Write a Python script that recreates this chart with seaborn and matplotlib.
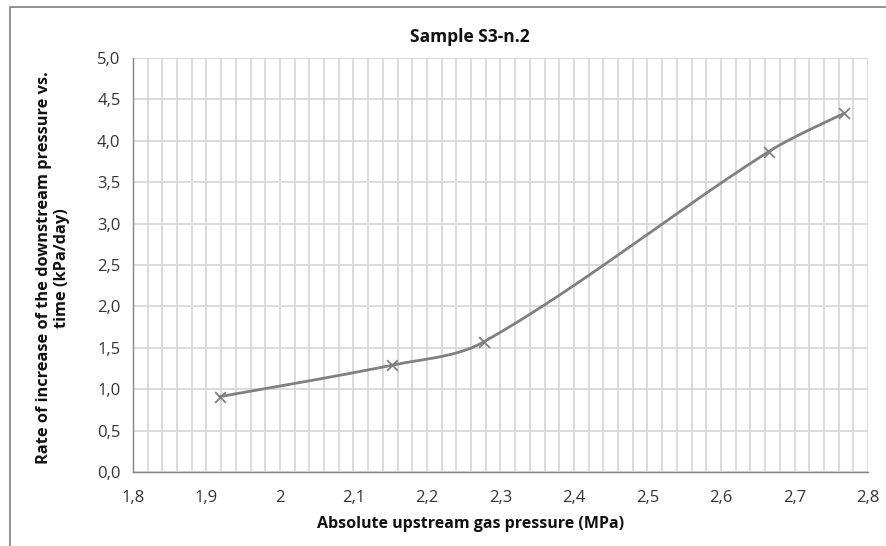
import numpy as np
import pandas as pd
import matplotlib
matplotlib.use("Agg")
import matplotlib.pyplot as plt
import seaborn as sns
from matplotlib.ticker import MultipleLocator, FuncFormatter
from matplotlib.patches import Rectangle

pressure = [1.918, 2.152, 2.277, 2.665, 2.767]
rate = [0.91, 1.29, 1.57, 3.87, 4.33]
title = "Sample S3-n.2"
xlabel = "Absolute upstream gas pressure (MPa)"
ylabel = "Rate of increase of the downstream pressure vs.\ntime (kPa/day)"

sns.set_theme(style="white")
plt.rcParams['font.family'] = ['Open Sans', 'DejaVu Sans']

W, H = 886, 546
fig = plt.figure(figsize=(W / 100, H / 100), dpi=100)
L, R, T, B = 133, 868, 58, 472
ax = fig.add_axes([L / W, 1 - B / H, (R - L) / W, (B - T) / H])
XMIN, XMAX, YMIN, YMAX = 1.8, 2.8, 0.0, 5.0
sx = (R - L) / (XMAX - XMIN)
sy = (B - T) / (YMAX - YMIN)

# Excel-style smoothed curve: Bezier segments, tangents weighted by chord length (pixel space)
P = np.column_stack([(np.array(pressure) - XMIN) * sx, (np.array(rate) - YMIN) * sy])
n = len(P)
t = np.linspace(0, 1, 50)
pix = []
for i in range(n - 1):
    p0 = P[max(i - 1, 0)]; p1 = P[i]; p2 = P[i + 1]; p3 = P[min(i + 2, n - 1)]
    d01 = np.linalg.norm(p1 - p0); d12 = np.linalg.norm(p2 - p1); d23 = np.linalg.norm(p3 - p2)
    f1 = d12 / (d01 + d12) / 3 if d01 > 0 else 1 / 6
    f2 = d12 / (d12 + d23) / 3 if d23 > 0 else 1 / 6
    c1 = p1 + (p2 - p0) * f1
    c2 = p2 - (p3 - p1) * f2
    seg = ((1 - t)[:, None] ** 3 * p1 + 3 * ((1 - t) ** 2 * t)[:, None] * c1
           + 3 * ((1 - t) * t ** 2)[:, None] * c2 + (t ** 3)[:, None] * p2)
    if i > 0:
        seg = seg[1:]
    pix.append(seg)
pix = np.vstack(pix)
curve = pd.DataFrame({"x": pix[:, 0] / sx + XMIN, "y": pix[:, 1] / sy + YMIN})
pts = pd.DataFrame({"x": pressure, "y": rate})

col = "#808080"
sns.lineplot(data=curve, x="x", y="y", sort=False, ax=ax, color=col, lw=2.0, zorder=3)
sns.scatterplot(data=pts, x="x", y="y", ax=ax, marker="x", s=60, color=col,
                linewidth=1.3, zorder=4)

ax.set_xlim(XMIN, XMAX)
ax.set_ylim(YMIN, YMAX)
ax.xaxis.set_major_locator(MultipleLocator(0.1))
ax.xaxis.set_minor_locator(MultipleLocator(0.02))
ax.yaxis.set_major_locator(MultipleLocator(0.5))

def xfmt(v, pos):
    s = f"{v:.1f}"
    if s.endswith(".0"):
        s = s[:-2]
    return s.replace(".", ",")

ax.xaxis.set_major_formatter(FuncFormatter(xfmt))
ax.yaxis.set_major_formatter(FuncFormatter(lambda v, p: f"{v:.1f}".replace(".", ",")))

grid_c = "#d9d9d9"
ax.grid(True, which="major", axis="y", color=grid_c, lw=1.3)
ax.grid(True, which="both", axis="x", color=grid_c, lw=1.3)
ax.set_axisbelow(True)

for s in ["top", "right"]:
    ax.spines[s].set_visible(False)
for s in ["left", "bottom"]:
    ax.spines[s].set_color("#868686")
    ax.spines[s].set_linewidth(1.0)

ax.tick_params(axis="both", which="major", direction="out", length=5, width=1,
               color="#868686", labelsize=12, labelcolor="#333333", pad=4)
ax.tick_params(axis="x", which="major", pad=8)
ax.tick_params(axis="x", which="minor", length=0)

ax.set_xlabel("")
ax.set_ylabel("")
fig.text(471 / W, 1 - 524 / H, xlabel, ha="center", va="center",
         fontsize=11.5, fontweight="bold", color="#111111")
fig.text(53 / W, 1 - 268 / H, ylabel, ha="center", va="center", rotation=90,
         fontsize=11.8, fontweight="bold", color="#111111", linespacing=1.1)
fig.text(470 / W, 1 - 37 / H, title, ha="center", va="center",
         fontsize=12.5, fontweight="bold", color="#111111")

fig.add_artist(Rectangle((10 / W, -0.1), 1.2, 1 - 7 / H + 0.1,
                         transform=fig.transFigure, fill=False,
                         edgecolor="#808080", lw=1.2))

fig.savefig("out.png", dpi=100)
